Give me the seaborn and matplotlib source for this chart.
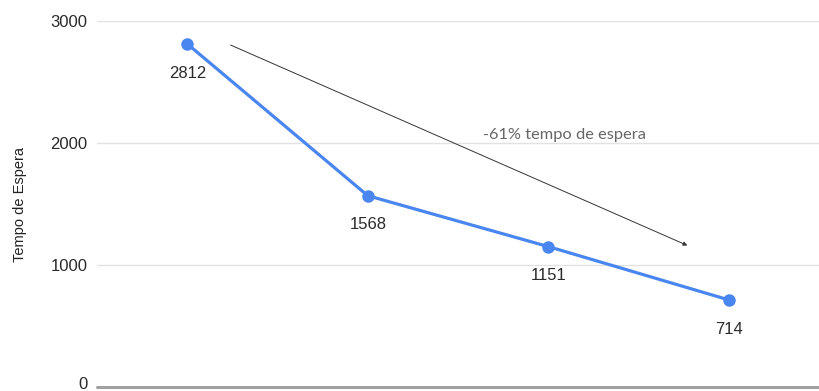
import matplotlib
matplotlib.use("Agg")
import matplotlib.pyplot as plt
import matplotlib.transforms as mtransforms
import seaborn as sns
import pandas as pd

# Waiting time per stage
stages = [0, 1, 2, 3]
wait_times = [2812, 1568, 1151, 714]
y_ticks = [0, 1000, 2000, 3000]
trend_text = "-61% tempo de espera"

df = pd.DataFrame({"stage": stages, "wait": wait_times})

sns.set_theme(style="white")
plt.rcParams["font.family"] = ["Liberation Sans", "DejaVu Sans"]

fig = plt.figure(figsize=(8.19, 3.91), dpi=100)
ax = fig.add_axes([0.1185, 0.0102, 0.8815, 0.9361])

blue = "#4a86f0"
sns.lineplot(data=df, x="stage", y="wait", ax=ax, color=blue, linewidth=2.3,
             marker="o", markersize=9, markeredgewidth=0, zorder=3)

ax.set_xlim(-0.5, 3.5)
ax.set_ylim(0, 3000)
ax.set_yticks(y_ticks)
ax.set_yticklabels([str(t) for t in y_ticks], fontsize=12, color="#2a2a2a")
ax.set_xticks([])
ax.set_xlabel("")
ax.set_ylabel("Tempo de Espera", fontsize=10.5, color="#222222", labelpad=17)
ax.tick_params(axis="y", length=0, pad=7)

# lift the zero label slightly so it stays inside the figure
zero_lbl = ax.get_yticklabels()[0]
zero_lbl.set_transform(zero_lbl.get_transform() +
                       mtransforms.ScaledTranslation(0, 3 / 72, fig.dpi_scale_trans))

for s in ax.spines.values():
    s.set_visible(False)

for t in y_ticks[1:]:
    ax.axhline(t, color="#e2e2e2", linewidth=1.0, zorder=0)
ax.axhline(0, color="#a0a0a0", linewidth=2.2, clip_on=False, zorder=1)

# value labels under each point
for x, v in zip(stages, wait_times):
    ax.annotate(str(v), (x, v), xytext=(0, -21), textcoords="offset points",
                ha="center", va="center", fontsize=12, color="#2a2a2a")

# trend arrow and annotation
ax.annotate("", xy=(2.785, wait_times[2]), xytext=(0.226, wait_times[0]),
            arrowprops=dict(arrowstyle="-|>", color="#333333", lw=0.7,
                            mutation_scale=6))
ax.text(2.09, 2065, trend_text, ha="center", va="center", fontsize=11.8,
        color="#666666", family=["Lato", "DejaVu Sans"])

fig.savefig("out.png", dpi=100)
